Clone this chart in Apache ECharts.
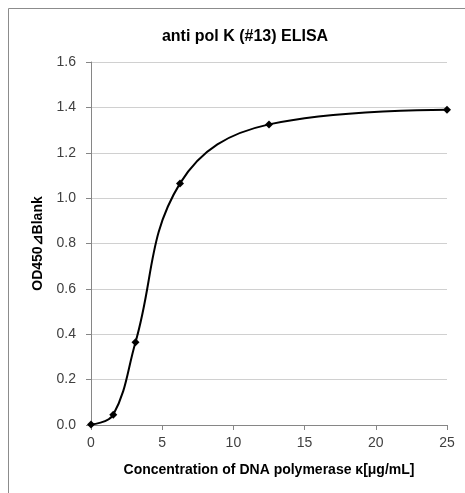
<!DOCTYPE html>
<html>
<head>
<meta charset="utf-8">
<script src="https://cdn.jsdelivr.net/npm/echarts@6/dist/echarts.min.js"></script>
<style>
  html, body { margin: 0; padding: 0; background: #fff; }
  #mainChart { width: 465px; height: 493px; }
</style>
</head>
<body>
<div id="mainChart"></div>
<script>
  // concentration (ug/mL) and OD450 minus blank
  var concList = [0, 1.5625, 3.125, 6.25, 12.5, 25];
  var odList = [0.002, 0.045, 0.365, 1.065, 1.325, 1.39];

  var fontName = '"Liberation Sans", Arial, sans-serif';

  var points = concList.map(function (c, i) { return [c, odList[i]]; });

  var options = {
    animation: false,
    backgroundColor: '#fff',
    title: {
      text: 'anti pol K (#13) ELISA',
      left: 240,
      textAlign: 'center',
      top: 24,
      textStyle: { fontFamily: fontName, fontSize: 16, fontWeight: 'bold', color: '#000' }
    },
    graphic: [{
      type: 'rect',
      shape: { x: 8.5, y: 8.5, width: 470, height: 500 },
      style: { fill: 'none', stroke: '#8c8c8c', lineWidth: 1 },
      silent: true
    }],
    grid: { left: 91, right: 18, top: 62, bottom: 68 },
    xAxis: {
      type: 'value',
      min: 0,
      max: 25,
      interval: 5,
      name: 'Concentration of DNA polymerase κ[μg/mL]',
      nameLocation: 'middle',
      nameGap: 38,
      nameTextStyle: { fontFamily: fontName, fontSize: 14, fontWeight: 'bold', color: '#000' },
      axisLine: { lineStyle: { color: '#868686', width: 1 } },
      axisTick: { show: true, length: 5, lineStyle: { color: '#868686' } },
      axisLabel: { fontFamily: fontName, fontSize: 14, color: '#404040', margin: 11 },
      splitLine: { show: false }
    },
    yAxis: {
      type: 'value',
      min: 0,
      max: 1.6,
      interval: 0.2,
      name: 'OD450⊿Blank',
      nameLocation: 'middle',
      nameGap: 46,
      nameTextStyle: { fontFamily: fontName, fontSize: 14, fontWeight: 'bold', color: '#000' },
      axisLine: { show: true, lineStyle: { color: '#868686', width: 1 } },
      axisTick: { show: true, length: 5, lineStyle: { color: '#868686' } },
      axisLabel: {
        fontFamily: fontName, fontSize: 14, color: '#404040', margin: 15,
        formatter: function (v) { return v.toFixed(1); }
      },
      splitLine: { lineStyle: { color: '#d0d0d0', width: 1 } }
    },
    series: [{
      type: 'line',
      data: points,
      smooth: 0.4,
      symbol: 'diamond',
      symbolSize: 8,
      itemStyle: { color: '#000' },
      lineStyle: { color: '#000', width: 2 }
    }]
  };

  var chart = echarts.init(document.getElementById('mainChart'));
  chart.setOption(options);
</script>
</body>
</html>
